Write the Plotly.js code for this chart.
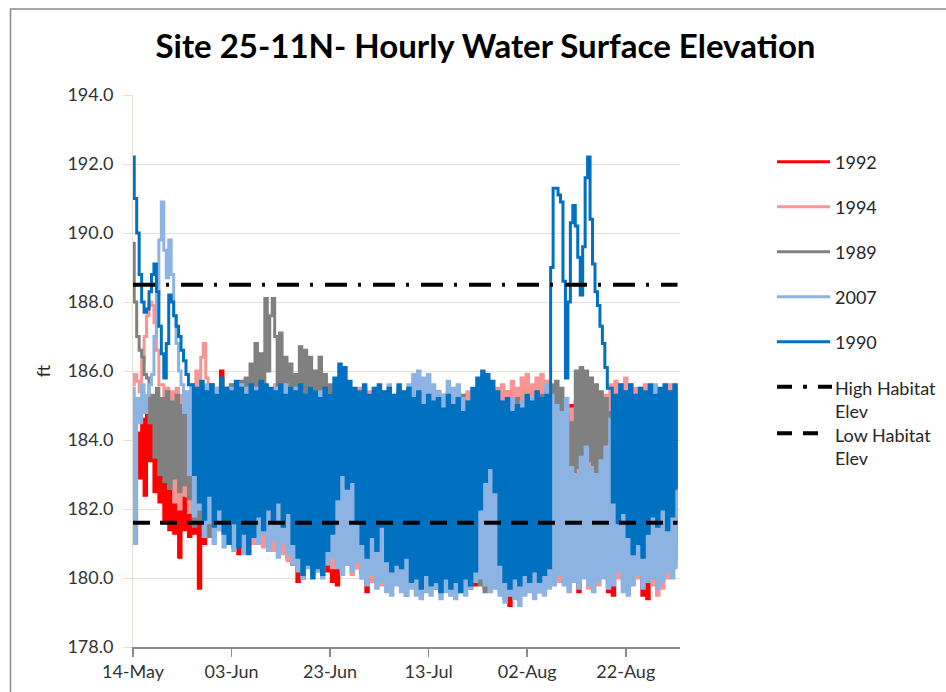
<!DOCTYPE html>
<html>
<head>
<meta charset="utf-8">
<script src="https://cdn.plot.ly/plotly-3.0.1.min.js"></script>
<style>
  html, body { margin: 0; padding: 0; background: #ffffff; }
  #chart { width: 946px; height: 692px; }
</style>
</head>
<body>
<div id="chart"></div>
<script>
// ---------------- DATA ----------------
// Start date of the series (day 0) and tick labels
const START_DATE = '2000-05-14';
const END_DATE = '2000-09-02';
const TICK_LABELS = ['14-May', '03-Jun', '23-Jun', '13-Jul', '02-Aug', '22-Aug'];

// Series names, in drawing order (first = bottom)
const SERIES_NAMES = ['1992', '1994', '1989', '2007', '1990'];

// Daily high (early in day) and low (mid-day) water surface elevation, ft; days 0..110
const HI_1992 = [
  184.0,184.2,184.6,184.8,185.0,185.1,184.5,184.2,183.6,183.5,
  182.6,182.3,182.0,181.8,182.5,183.0,184.0,185.0,186.0,185.5,
  185.2,185.4,185.3,185.1,185.3,185.2,185.4,185.3,185.2,185.4,
  185.1,185.3,185.2,185.0,185.3,185.1,185.2,185.0,185.3,185.1,
  185.2,185.0,185.3,185.1,185.2,185.0,185.2,185.1,185.3,185.0,
  185.2,185.1,185.3,185.0,185.2,185.1,185.3,185.2,185.0,185.3,
  185.1,185.2,185.4,185.1,185.2,185.0,185.3,185.1,185.2,185.0,
  185.1,185.3,185.0,185.2,185.1,185.3,185.4,185.2,185.0,185.3,
  185.4,185.2,185.3,185.1,185.0,185.2,185.0,185.1,184.9,185.0,
  185.1,184.8,185.0,184.9,185.1,185.0,184.8,185.0,185.1,185.2,
  185.0,185.1,185.0,185.2,185.1,185.0,185.2,185.1,185.0,185.1,
  185.2];
const LO_1992 = [
  183.5,182.9,182.4,183.4,182.5,182.2,181.6,181.4,181.3,180.6,
  181.4,181.2,181.3,179.7,181.0,181.5,181.8,181.6,182.0,181.5,
  180.9,180.7,180.8,181.2,181.0,181.3,181.5,181.4,181.0,180.9,
  181.2,180.6,180.4,179.9,180.0,180.5,180.3,180.6,180.4,180.2,
  179.9,179.8,180.5,180.6,180.4,180.3,180.1,179.6,179.9,180.2,
  180.0,180.3,179.9,180.1,179.8,179.5,179.8,180.0,179.7,179.9,
  179.8,179.7,179.6,179.8,179.9,179.7,179.8,179.9,179.7,179.8,
  179.9,179.7,180.0,179.8,179.9,179.6,179.2,179.7,179.8,179.9,
  179.8,179.6,179.6,179.7,180.0,179.9,180.2,180.4,180.1,179.9,
  179.6,180.2,179.8,180.1,180.3,180.1,179.6,179.5,180.2,180.4,
  180.3,180.5,180.2,179.5,179.4,180.0,180.3,180.5,180.6,181.0,
  182.2];

const HI_1994 = [
  185.6,185.7,186.3,187.6,187.9,186.6,185.6,185.5,185.4,185.5,
  185.3,185.4,185.6,186.0,186.4,185.8,185.6,185.5,185.7,185.4,
  185.6,185.5,185.3,185.5,185.4,185.6,185.3,185.5,185.4,185.6,
  185.3,185.5,185.4,185.2,185.5,185.3,185.4,185.2,185.5,185.3,
  185.4,185.2,185.5,185.3,185.4,185.2,185.5,185.3,185.4,185.2,
  185.5,185.3,185.4,185.2,185.5,185.3,185.4,185.2,185.3,185.1,
  185.4,185.2,185.3,185.1,185.4,185.2,185.3,185.1,185.4,185.2,
  185.3,185.1,185.4,185.2,185.5,185.6,185.4,185.7,185.5,185.8,
  185.9,185.6,185.8,185.9,185.7,185.4,185.3,185.2,185.0,184.9,
  185.1,185.0,184.8,185.0,185.2,185.1,185.3,185.6,185.7,185.6,
  185.8,185.6,185.5,185.4,185.6,185.3,185.5,185.4,185.3,185.6,
  185.5];
const LO_1994 = [
  185.9,185.4,187.0,188.0,187.4,185.6,183.5,182.6,182.2,182.0,
  182.4,181.9,181.7,182.0,186.8,182.2,181.6,181.4,181.6,181.2,
  181.0,181.3,181.1,181.4,181.0,181.2,180.9,181.1,180.8,181.0,
  180.7,180.5,180.8,180.4,180.6,180.3,180.5,180.2,180.4,180.6,
  180.3,180.5,180.2,180.4,180.1,180.3,180.0,180.2,179.9,180.1,
  179.8,180.0,179.9,180.1,179.8,180.0,179.9,180.1,179.8,180.0,
  179.9,180.1,179.8,180.0,179.9,180.1,179.8,180.0,179.9,180.2,
  179.9,180.1,179.8,180.0,179.7,179.4,179.6,179.8,179.7,182.5,
  183.2,182.8,183.4,183.3,182.0,181.0,179.9,180.1,179.8,180.0,
  179.9,180.2,179.7,180.0,179.8,180.1,179.9,180.2,180.0,180.3,
  180.1,180.4,180.0,180.2,180.0,179.8,179.5,179.7,180.0,180.3,
  181.0];

const HI_1989 = [
  189.7,187.0,186.4,185.8,185.3,185.5,185.2,185.4,185.1,185.3,
  185.0,185.2,185.4,185.3,185.5,185.4,185.6,185.3,185.5,185.4,
  185.6,185.3,185.7,185.8,186.2,186.8,186.5,188.1,187.6,187.0,
  187.1,186.4,186.2,185.9,186.7,186.6,186.4,186.0,186.4,185.9,
  185.6,185.4,185.3,185.5,185.2,185.4,185.3,185.5,185.2,185.4,
  185.3,185.1,185.4,185.2,185.3,185.1,185.4,185.2,185.3,185.1,
  185.4,185.2,185.0,185.3,185.1,185.2,185.0,185.3,185.1,185.0,
  184.6,184.8,185.0,184.7,185.1,184.9,185.0,184.8,185.2,184.9,
  185.1,184.6,185.0,185.3,185.4,185.6,185.7,185.5,184.8,184.5,
  186.0,186.1,186.0,185.8,185.6,185.4,185.2,184.8,185.0,185.2,
  185.1,185.3,185.0,185.2,185.1,185.3,185.0,185.2,185.1,185.0,
  185.2];
const LO_1989 = [
  188.0,186.6,185.9,184.5,183.5,183.0,182.8,182.6,182.9,182.5,
  182.7,182.3,181.5,181.6,181.4,181.2,181.3,181.7,181.5,181.8,
  181.4,181.6,181.5,181.4,181.6,182.0,182.4,186.0,188.1,184.5,
  182.8,182.0,181.6,181.4,181.8,181.5,181.3,181.6,181.2,181.4,
  181.6,181.2,181.0,180.8,181.1,180.9,180.7,181.0,180.8,180.6,
  180.9,180.7,180.5,180.8,180.6,180.4,180.7,180.5,180.3,180.6,
  180.4,180.2,180.5,180.3,180.1,180.4,180.2,180.0,180.3,180.4,
  179.8,179.6,179.9,180.2,179.7,179.9,180.3,180.0,180.4,180.6,
  180.5,180.8,180.6,181.0,182.0,182.7,182.5,182.4,182.6,182.8,
  183.2,182.9,183.4,183.0,182.8,182.6,182.3,181.5,181.0,180.8,
  181.1,180.9,180.7,181.0,180.8,180.6,180.9,180.5,180.4,180.6,
  180.5];

const HI_2007 = [
  185.5,185.2,185.6,185.3,185.9,188.2,190.9,188.7,188.8,186.8,
  185.6,185.4,185.6,185.3,185.5,185.6,185.4,185.5,185.6,185.3,
  185.5,185.4,185.6,185.5,185.3,185.5,185.4,185.6,185.3,185.5,
  185.4,185.6,185.3,185.5,185.4,185.2,185.5,185.3,185.4,185.2,
  185.3,184.5,183.8,183.5,184.2,185.0,185.3,185.4,185.2,185.5,
  185.3,185.4,185.6,185.3,185.5,185.4,185.6,185.9,186.0,185.8,
  185.9,185.6,185.4,185.3,185.7,185.5,185.6,185.2,185.0,184.5,
  183.4,183.2,183.6,183.9,184.5,184.8,185.0,185.2,185.0,185.1,
  185.3,185.2,185.0,185.2,185.6,185.3,185.0,184.8,185.2,183.2,
  183.0,183.5,183.8,183.2,183.0,183.4,183.8,184.6,185.3,185.5,
  185.3,185.4,185.2,185.5,185.3,185.4,185.6,185.3,185.2,185.4,
  185.3];
const LO_2007 = [
  181.0,184.5,184.8,185.6,187.0,189.8,189.5,189.8,187.6,186.0,
  184.8,183.0,181.8,182.0,181.2,181.6,181.0,181.4,180.9,181.2,
  180.8,181.1,180.7,181.2,181.6,181.0,181.3,180.8,181.1,180.6,
  181.0,180.7,180.4,180.2,180.0,180.3,180.1,180.2,180.0,180.4,
  180.6,180.3,180.1,180.4,180.2,180.5,180.0,179.8,180.1,179.7,
  179.9,179.6,179.5,179.8,179.6,179.5,179.7,179.5,179.4,179.6,
  179.5,179.7,179.4,179.6,179.5,179.4,179.6,179.5,179.7,179.9,
  180.0,179.8,179.6,179.7,179.5,179.3,179.5,179.4,179.2,179.5,
  179.6,179.4,179.6,179.5,179.7,179.8,180.1,179.8,179.6,179.9,
  179.7,180.0,179.8,179.6,179.9,180.0,179.7,179.8,180.2,179.6,
  179.5,179.8,180.1,179.7,179.9,180.0,179.7,179.9,180.2,180.0,
  180.3];

const HI_1990 = [
  192.2,190.0,188.0,187.8,188.8,188.3,186.5,186.8,188.0,187.3,
  186.6,185.9,185.6,185.5,185.7,185.4,185.6,185.3,185.8,185.5,
  185.4,185.7,185.5,185.3,185.6,185.4,185.7,185.6,185.5,185.4,
  185.6,185.3,185.5,185.4,185.6,185.3,185.5,185.4,185.2,185.5,
  185.3,185.8,186.2,186.1,185.7,185.5,185.4,185.6,185.3,185.5,
  185.6,185.4,185.5,185.3,185.6,185.4,185.5,185.2,185.4,185.0,
  185.3,185.1,185.2,184.9,185.3,185.0,185.2,184.8,185.1,185.5,
  185.8,186.0,185.9,185.7,185.4,185.1,185.2,184.8,185.0,184.9,
  185.3,185.1,185.4,185.2,185.3,189.0,191.3,190.9,185.8,190.3,
  190.2,188.2,191.6,190.4,188.3,187.3,186.1,185.5,185.3,185.6,
  185.4,185.6,185.3,185.5,185.4,185.6,185.3,185.5,185.6,185.4,
  185.6];
const LO_1990 = [
  191.0,188.8,187.7,188.3,189.1,187.3,185.8,188.2,187.6,187.0,
  186.3,185.6,183.0,182.2,181.7,182.4,181.5,182.0,181.3,181.0,
  181.6,180.9,181.3,180.7,181.2,181.8,181.4,182.0,181.6,182.2,
  181.5,181.9,181.0,180.6,180.1,180.4,180.0,180.3,180.1,180.8,
  181.3,182.3,183.0,182.6,182.8,181.6,181.0,180.6,181.2,180.8,
  181.5,180.5,180.2,180.4,180.3,180.6,179.9,180.0,179.7,180.1,
  179.8,179.9,179.6,180.0,179.7,179.9,179.6,180.0,179.8,180.2,
  182.0,182.8,183.2,182.5,180.4,179.9,179.7,180.0,179.8,180.1,
  179.9,180.2,179.9,180.1,180.3,191.3,191.1,188.6,188.0,190.8,
  189.3,189.6,192.2,189.1,187.9,186.8,185.5,182.2,181.6,181.9,
  181.2,180.7,181.0,180.6,181.3,181.8,181.5,182.0,181.4,181.8,
  182.6];

// Habitat reference elevations, ft
const HIGH_HABITAT = 188.5;
const LOW_HABITAT = 181.6;
const REF_NAMES = ['High Habitat Elev', 'Low Habitat Elev'];

// ---------------- BUILD ----------------
const DAY_MS = 86400000;
const BASE_MS = Date.parse(START_DATE + 'T00:00:00Z');
function t(day) { return new Date(BASE_MS + day * DAY_MS).toISOString().slice(0, 19).replace('T', ' '); }

function zig(hi, lo) {
  const xs = [], ys = [];
  for (let d = 0; d < hi.length; d++) {
    xs.push(t(d)); ys.push(hi[d]);
    xs.push(t(d + 0.5)); ys.push(lo[d]);
  }
  return { x: xs, y: ys };
}

const SERIES = [
  { name: SERIES_NAMES[0], hi: HI_1992, lo: LO_1992, color: '#FF0000' },
  { name: SERIES_NAMES[1], hi: HI_1994, lo: LO_1994, color: '#F79494' },
  { name: SERIES_NAMES[2], hi: HI_1989, lo: LO_1989, color: '#808080' },
  { name: SERIES_NAMES[3], hi: HI_2007, lo: LO_2007, color: '#8DB3E2' },
  { name: SERIES_NAMES[4], hi: HI_1990, lo: LO_1990, color: '#0070C0' }
];

const traces = SERIES.map(s => {
  const z = zig(s.hi, s.lo);
  return {
    type: 'scatter', mode: 'lines', name: s.name,
    x: z.x, y: z.y,
    line: { color: s.color, width: 3, shape: 'hvh' },
    showlegend: false, hoverinfo: 'skip'
  };
});

const lastDay = HI_1990.length - 0.5;
traces.push({
  type: 'scatter', mode: 'lines', name: REF_NAMES[0],
  x: [t(0), t(lastDay)], y: [HIGH_HABITAT, HIGH_HABITAT],
  line: { color: '#000000', width: 4, dash: '22px,11px,3px,12px' },
  showlegend: false, hoverinfo: 'skip'
});
traces.push({
  type: 'scatter', mode: 'lines', name: REF_NAMES[1],
  x: [t(0), t(lastDay)], y: [LOW_HABITAT, LOW_HABITAT],
  line: { color: '#000000', width: 4, dash: '17px,10px' },
  showlegend: false, hoverinfo: 'skip'
});

// ---------------- LAYOUT ----------------
const FONT = 'Lato, "Open Sans", "Liberation Sans", sans-serif';
const GRID = '#e4e0d5';

// manual legend (paper coordinates relative to the plot area)
const PLOT_L = 133, PLOT_R = 680, PLOT_T = 95, PLOT_B = 647;
const px2x = px => (px - PLOT_L) / (PLOT_R - PLOT_L);
const py2y = py => (PLOT_B - py) / (PLOT_B - PLOT_T);

const legendRows = [161.7, 206.7, 251.7, 296.7, 341.7];
const shapes = [];
const annotations = [];
SERIES.forEach((s, i) => {
  shapes.push({ type: 'line', xref: 'paper', yref: 'paper',
    x0: px2x(777), x1: px2x(830), y0: py2y(legendRows[i]), y1: py2y(legendRows[i]),
    line: { color: s.color, width: 3 } });
  annotations.push({ xref: 'paper', yref: 'paper', x: px2x(833), y: py2y(legendRows[i]),
    xanchor: 'left', yanchor: 'middle', showarrow: false, text: s.name,
    font: { family: FONT, size: 18, color: '#262626' } });
});
shapes.push({ type: 'line', xref: 'paper', yref: 'paper',
  x0: px2x(777), x1: px2x(832), y0: py2y(386.7), y1: py2y(386.7),
  line: { color: '#000', width: 4, dash: '15px,11px,4px,11px' } });
shapes.push({ type: 'line', xref: 'paper', yref: 'paper',
  x0: px2x(777), x1: px2x(818), y0: py2y(433.3), y1: py2y(433.3),
  line: { color: '#000', width: 4, dash: '15px,11px' } });
annotations.push({ xref: 'paper', yref: 'paper', x: px2x(833), y: py2y(375),
  xanchor: 'left', yanchor: 'top', align: 'left', showarrow: false,
  text: 'High Habitat<br>Elev', font: { family: FONT, size: 18, color: '#262626' } });
annotations.push({ xref: 'paper', yref: 'paper', x: px2x(833), y: py2y(421.5),
  xanchor: 'left', yanchor: 'top', align: 'left', showarrow: false,
  text: 'Low Habitat<br>Elev', font: { family: FONT, size: 18, color: '#262626' } });

// outer chart frame
shapes.push({ type: 'rect', xref: 'paper', yref: 'paper', layer: 'below',
  x0: px2x(10.5), x1: px2x(1200), y0: py2y(900), y1: py2y(9),
  line: { color: '#8c8c8c', width: 1.5 }, fillcolor: 'rgba(0,0,0,0)' });

const tickVals = TICK_LABELS.map((_, i) => t(i * 20));

const layout = {
  width: 946, height: 692,
  margin: { l: PLOT_L, r: 946 - PLOT_R, t: PLOT_T, b: 692 - PLOT_B, pad: 0 },
  paper_bgcolor: '#ffffff', plot_bgcolor: '#ffffff',
  showlegend: false,
  title: {
    text: '<b>Site 25-11N- Hourly Water Surface Elevation</b>',
    x: 485.5 / 946, xref: 'container', xanchor: 'center',
    y: 1 - 46 / 692, yref: 'container', yanchor: 'middle',
    font: { family: FONT, size: 33, color: '#000000' }
  },
  xaxis: {
    type: 'date', range: [t(0), END_DATE],
    tickmode: 'array', tickvals: tickVals, ticktext: TICK_LABELS,
    ticks: 'outside', ticklen: 8, tickwidth: 1.5, tickcolor: '#8a8a8a',
    showline: true, linecolor: '#8a8a8a', linewidth: 1.5,
    showgrid: false, zeroline: false,
    tickfont: { family: FONT, size: 18, color: '#333333' }
  },
  yaxis: {
    range: [178, 194], dtick: 2, tick0: 178, tickformat: '.1f',
    ticks: 'outside', ticklen: 9, tickcolor: GRID, tickwidth: 1,
    showline: true, linecolor: GRID, linewidth: 1,
    showgrid: true, gridcolor: GRID, gridwidth: 1, zeroline: false,
    ticklabelstandoff: 6,
    tickfont: { family: FONT, size: 18, color: '#333333' },
    title: { text: 'ft', standoff: 12, font: { family: FONT, size: 18, color: '#262626' } }
  },
  shapes: shapes,
  annotations: annotations
};

Plotly.newPlot('chart', traces, layout, { displayModeBar: false, staticPlot: true });
</script>
</body>
</html>
